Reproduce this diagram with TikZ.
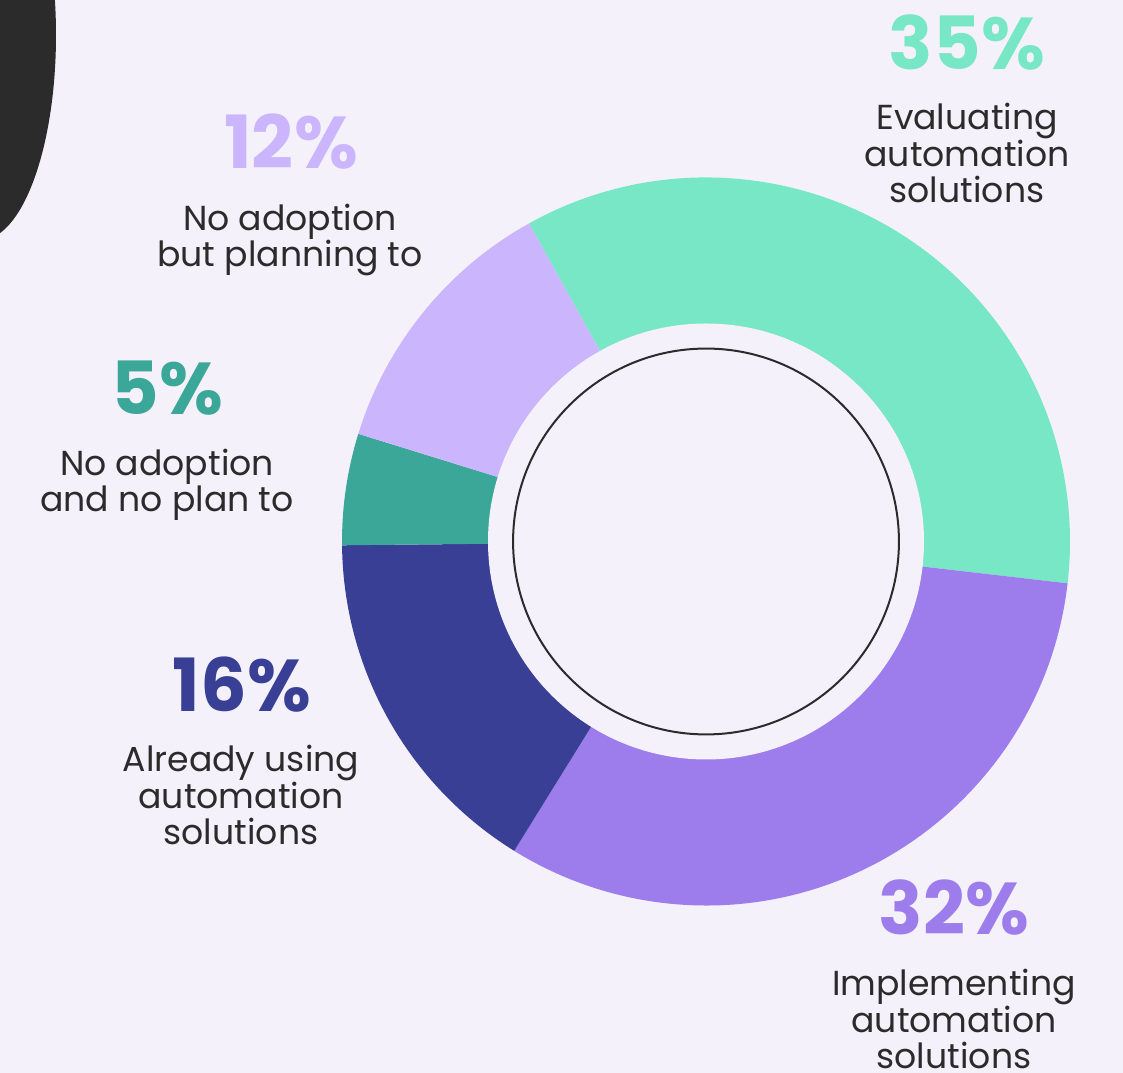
\documentclass[tikz,border=0pt]{standalone}
\usepackage{fontspec}
\setmainfont{Poppins}
\usetikzlibrary{calc}
\definecolor{bgc}{HTML}{F4F1FB}
\definecolor{ink}{HTML}{2B2B2B}
\definecolor{cgreen}{HTML}{78E7C5}
\definecolor{cpurple}{HTML}{9D7CEC}
\definecolor{cblue}{HTML}{383F95}
\definecolor{cteal}{HTML}{3AA798}
\definecolor{clilac}{HTML}{CBB5FD}
\tikzset{
  pct/.style={font=\fontsize{55}{60}\selectfont\bfseries\addfontfeature{LetterSpace=0.5}, anchor=base, inner sep=0pt},
  lbl/.style={font=\fontsize{26}{27.4}\selectfont, text=ink, align=center, anchor=base, inner sep=0pt},
}
\begin{document}
\begin{tikzpicture}[x=0.75pt,y=0.75pt]
\fill[bgc] (0,0) rectangle (1123,1073);
\useasboundingbox (0,0) rectangle (1123,1073);
% dark blob top-left
\fill[ink] (-20,1038) ellipse [x radius=57pt, y radius=154pt];
\coordinate (C) at (706,531.5);
% donut wedges
\fill[cgreen]  (C) -- ++(119.1:273pt) arc[start angle=119.1, end angle=-6.6, radius=273pt] -- cycle;
\fill[cpurple] (C) -- ++(-6.6:273pt) arc[start angle=-6.6, end angle=-121.8, radius=273pt] -- cycle;
\fill[cblue]   (C) -- ++(-121.8:273pt) arc[start angle=-121.8, end angle=-179.4, radius=273pt] -- cycle;
\fill[cteal]   (C) -- ++(180.6:273pt) arc[start angle=180.6, end angle=162.8, radius=273pt] -- cycle;
\fill[clilac]  (C) -- ++(162.8:273pt) arc[start angle=162.8, end angle=119.1, radius=273pt] -- cycle;
\fill[bgc] (C) circle[radius=163.5pt];
\draw[ink, line width=1.5pt] (C) circle[radius=144.7pt];
% labels
\node[pct, text=cgreen] (p35) at (967,1003) {35\%};
\node[lbl] (t35) at (967,870) {Evaluating\\automation\\solutions};
\node[pct, text=clilac] (p12) at (291,904) {12\%};
\node[lbl] (t12) at (290,806) {No adoption\\but planning to};
\node[pct, text=cteal] (p5) at (167,658) {5\%};
\node[lbl] (t5) at (167,561) {No adoption\\and no plan to};
\node[pct, text=cblue] (p16) at (242,361) {16\%};
\node[lbl] (t16) at (241,228) {Already using\\automation\\solutions};
\node[pct, text=cpurple] (p32) at (954,138) {32\%};
\node[lbl] (t32) at (954,4) {Implementing\\automation\\solutions};
\end{tikzpicture}
\end{document}
